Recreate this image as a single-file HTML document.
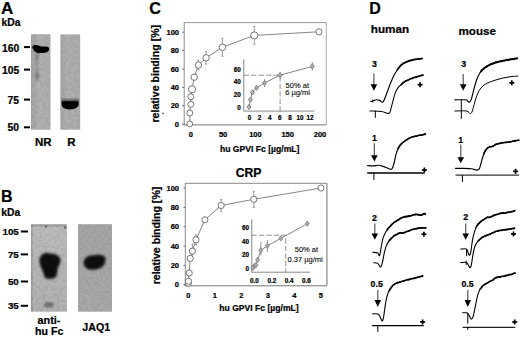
<!DOCTYPE html>
<html><head><meta charset="utf-8"><style>
html,body{margin:0;padding:0;background:#fff;}
svg{display:block;}
text{font-family:"Liberation Sans",sans-serif;fill:#000;stroke:#000;stroke-width:0.22px;}
</style></head><body>
<svg width="520" height="337" viewBox="0 0 520 337">
<defs>
<filter id="blur1" x="-50%" y="-50%" width="200%" height="200%"><feGaussianBlur stdDeviation="0.8"/></filter>
<filter id="blur05" x="-50%" y="-50%" width="200%" height="200%"><feGaussianBlur stdDeviation="0.5"/></filter>
<linearGradient id="gRh" x1="0" y1="0" x2="0" y2="1"><stop offset="0" stop-color="#000" stop-opacity="0"/><stop offset="1" stop-color="#000" stop-opacity="0.75"/></linearGradient>
<filter id="blur2" x="-50%" y="-50%" width="200%" height="200%"><feGaussianBlur stdDeviation="1.5"/></filter>
<filter id="noise" x="0" y="0" width="100%" height="100%"><feTurbulence type="fractalNoise" baseFrequency="0.35" numOctaves="2" seed="3"/><feColorMatrix type="matrix" values="0 0 0 0 0  0 0 0 0 0  0 0 0 0 0  0 0 0 1.6 -0.55"/><feComposite in2="SourceGraphic" operator="in"/></filter>
<linearGradient id="gA1" x1="0" y1="0" x2="1" y2="0"><stop offset="0" stop-color="#a4a4a4"/><stop offset="0.4" stop-color="#b2b2b2"/><stop offset="1" stop-color="#aeaeae"/></linearGradient>
<linearGradient id="gA2" x1="0" y1="0" x2="1" y2="0"><stop offset="0" stop-color="#a4a4a4"/><stop offset="0.3" stop-color="#b0b0b0"/><stop offset="1" stop-color="#adadad"/></linearGradient>
<linearGradient id="gB1" x1="0" y1="0" x2="0" y2="1"><stop offset="0" stop-color="#bebebe"/><stop offset="0.5" stop-color="#b8b8b8"/><stop offset="1" stop-color="#b3b3b3"/></linearGradient>
<linearGradient id="gB2" x1="0" y1="0" x2="0" y2="1"><stop offset="0" stop-color="#a6a6a6"/><stop offset="1" stop-color="#aaaaaa"/></linearGradient>
</defs>
<rect width="520" height="337" fill="#fff"/>
<text x="1.0" y="14.1" font-size="17" font-weight="bold" text-anchor="start" >A</text>
<text x="1.6" y="25.8" font-size="10.3" font-weight="bold" text-anchor="start" >kDa</text>
<text x="19.2" y="51.5" font-size="10.3" font-weight="bold" text-anchor="end" >160</text>
<text x="19.2" y="73.8" font-size="10.3" font-weight="bold" text-anchor="end" >105</text>
<text x="19.0" y="104.0" font-size="10.3" font-weight="bold" text-anchor="end" >75</text>
<text x="19.0" y="131.0" font-size="10.3" font-weight="bold" text-anchor="end" >50</text>
<line x1="24" y1="47.1" x2="30" y2="47.1" stroke="#000" stroke-width="2" />
<line x1="24" y1="69.6" x2="30" y2="69.6" stroke="#000" stroke-width="2" />
<line x1="24" y1="99.6" x2="30" y2="99.6" stroke="#000" stroke-width="2" />
<line x1="24" y1="127.3" x2="30" y2="127.3" stroke="#000" stroke-width="2" />
<rect x="31.0" y="34.2" width="19.5" height="95.5" fill="url(#gA1)"/>
<rect x="60.4" y="34.4" width="19.8" height="95.3" fill="url(#gA2)"/>
<rect x="31.0" y="34.2" width="19.5" height="95.5" fill="#000" filter="url(#noise)" opacity="0.10"/>
<rect x="60.4" y="34.4" width="19.8" height="95.3" fill="#000" filter="url(#noise)" opacity="0.10"/>
<path d="M32.3,47.6 C32.4,45.6 33.8,44.7 35.5,44.7 C37.2,44.8 38.6,45.5 40.2,46.3 C42.2,46.8 45.2,46.5 47.6,46.7 C49.2,47.1 49.4,48.9 48.9,50.3 C48.1,51.8 46.6,52.6 44.6,52.8 C42.2,53.1 39.6,53.4 37.6,53.3 C35.4,52.9 33.4,50.6 32.3,47.6 Z" fill="#050505" filter="url(#blur05)"/>
<path d="M35.6,52.5 L38.6,52.5 L38.4,60 L36,60 Z" fill="#777" filter="url(#blur1)" opacity="0.6"/>
<rect x="35.4" y="55" width="3" height="26" fill="#000" filter="url(#blur1)" opacity="0.12"/>
<rect x="61.5" y="97.5" width="17.2" height="5" fill="url(#gRh)"/>
<path d="M61.6,102.2 C62.5,101.2 66,101.3 70,101.4 C74,101.3 77.5,101.2 78.6,102.2 C79.2,104.5 78.5,106.5 76.5,107.8 C74.5,109 72,109.5 69.5,109.5 C66.5,109.4 64.5,108.8 63,107.6 C61.8,106.3 61.2,104.2 61.6,102.2 Z" fill="#050505" filter="url(#blur05)"/>
<ellipse cx="37.2" cy="75.5" rx="1.6" ry="3.6" fill="#555" filter="url(#blur1)" opacity="0.55"/>
<text x="43.3" y="145.8" font-size="11.5" font-weight="bold" text-anchor="middle" >NR</text>
<text x="71.3" y="145.8" font-size="11.5" font-weight="bold" text-anchor="middle" >R</text>
<text x="1.0" y="201.7" font-size="16" font-weight="bold" text-anchor="start" >B</text>
<text x="1.3" y="216" font-size="10.3" font-weight="bold" text-anchor="start" >kDa</text>
<text x="18.8" y="234.7" font-size="9.8" font-weight="bold" text-anchor="end" >105</text>
<text x="18.8" y="257.5" font-size="9.8" font-weight="bold" text-anchor="end" >75</text>
<text x="18.8" y="285.0" font-size="9.8" font-weight="bold" text-anchor="end" >50</text>
<text x="18.8" y="309.4" font-size="9.8" font-weight="bold" text-anchor="end" >35</text>
<line x1="20.8" y1="231.5" x2="28" y2="231.5" stroke="#000" stroke-width="2" />
<line x1="20.8" y1="254.4" x2="28" y2="254.4" stroke="#000" stroke-width="2" />
<line x1="20.8" y1="281.5" x2="28" y2="281.5" stroke="#000" stroke-width="2" />
<line x1="20.8" y1="305.8" x2="28" y2="305.8" stroke="#000" stroke-width="2" />
<rect x="30.9" y="224.2" width="36.0" height="87.5" fill="url(#gB1)"/>
<rect x="78.0" y="224.2" width="34.0" height="87.5" fill="url(#gB2)"/>
<rect x="30.9" y="224.2" width="36.0" height="87.5" fill="#000" filter="url(#noise)" opacity="0.12"/>
<rect x="30.9" y="224.2" width="1.8" height="87.5" fill="#000" opacity="0.12"/>
<rect x="31.5" y="224.4" width="35" height="2.2" fill="#000" opacity="0.15" filter="url(#blur05)"/>
<circle cx="65.2" cy="227.6" r="1.3" fill="#555" filter="url(#blur05)" opacity="0.8"/>
<circle cx="46" cy="226.5" r="1.2" fill="#555" filter="url(#blur05)" opacity="0.7"/>
<rect x="78.0" y="224.2" width="34.0" height="87.5" fill="#000" filter="url(#noise)" opacity="0.10"/>
<path d="M39.2,260.5 C39.27,258.63 39.98,256.58 41.0,255.3 C42.02,254.02 43.72,253.13 45.3,252.8 C46.88,252.47 48.67,253.00 50.5,253.3 C52.33,253.60 54.68,253.82 56.3,254.6 C57.92,255.38 59.52,256.68 60.2,258.0 C60.88,259.32 60.73,260.92 60.4,262.5 C60.07,264.08 58.72,265.75 58.2,267.5 C57.68,269.25 57.75,271.28 57.3,273.0 C56.85,274.72 56.72,276.80 55.5,277.8 C54.28,278.80 51.75,278.97 50.0,279.0 C48.25,279.03 46.13,279.08 45.0,278.0 C43.87,276.92 43.93,274.42 43.2,272.5 C42.47,270.58 41.27,268.50 40.6,266.5 C39.93,264.50 39.13,262.37 39.2,260.5 Z" fill="#333" filter="url(#blur2)" opacity="0.6"/>
<path d="M40.0,260.5 C40.08,258.75 40.88,257.15 41.8,256.0 C42.72,254.85 44.05,253.93 45.5,253.6 C46.95,253.27 48.78,253.73 50.5,254.0 C52.22,254.27 54.32,254.48 55.8,255.2 C57.28,255.92 58.77,257.08 59.4,258.3 C60.03,259.52 59.92,261.00 59.6,262.5 C59.28,264.00 58.00,265.58 57.5,267.3 C57.00,269.02 57.05,271.18 56.6,272.8 C56.15,274.42 55.90,276.10 54.8,277.0 C53.70,277.90 51.55,278.17 50.0,278.2 C48.45,278.23 46.53,278.20 45.5,277.2 C44.47,276.20 44.50,273.98 43.8,272.2 C43.10,270.42 41.93,268.45 41.3,266.5 C40.67,264.55 39.92,262.25 40.0,260.5 Z" fill="#080808" filter="url(#blur1)"/>
<path d="M83.5,263.5 C83,259 86,256 91,255.4 C96,254.6 101,254.3 104,255.6 C106.2,257 106,261 104.5,264.5 C102.5,268 98,269.6 93,270 C88,270.3 84,268 83.5,263.5 Z" fill="#333" filter="url(#blur2)" opacity="0.5"/>
<path d="M84.2,263.5 C83.8,259.3 86.5,256.6 91,256 C96,255.3 100.5,254.9 103.5,256.2 C105.4,257.6 105.2,261 103.8,264.2 C101.9,267.4 97.8,268.9 93,269.3 C88.3,269.6 84.7,267.5 84.2,263.5 Z" fill="#080808" filter="url(#blur1)"/>
<ellipse cx="48.9" cy="304.7" rx="5" ry="2.8" fill="#5a5a5a" filter="url(#blur1)" opacity="0.75"/>
<text x="49.0" y="324.2" font-size="10.8" font-weight="bold" text-anchor="middle" >anti-</text>
<text x="49.2" y="335.0" font-size="10.6" font-weight="bold" text-anchor="middle" >hu Fc</text>
<text x="96.2" y="331.3" font-size="10.6" font-weight="bold" text-anchor="middle" >JAQ1</text>
<text x="149.2" y="14.4" font-size="16.2" font-weight="bold" text-anchor="start" >C</text>
<line x1="184.2" y1="22.6" x2="326.3" y2="22.6" stroke="#999" stroke-width="1" />
<line x1="326.3" y1="22.6" x2="326.3" y2="124.9" stroke="#aaa" stroke-width="1" />
<line x1="184.2" y1="22.2" x2="184.2" y2="125.3" stroke="#8c8c8c" stroke-width="1" />
<line x1="183.7" y1="124.9" x2="326.3" y2="124.9" stroke="#777" stroke-width="1" />
<line x1="182.2" y1="124.1" x2="184.2" y2="124.1" stroke="#666" stroke-width="1" />
<text x="179.0" y="126.69999999999999" font-size="7.5" font-weight="bold" text-anchor="end" >0</text>
<line x1="182.2" y1="105.72" x2="184.2" y2="105.72" stroke="#666" stroke-width="1" />
<text x="179.0" y="108.32" font-size="7.5" font-weight="bold" text-anchor="end" >20</text>
<line x1="182.2" y1="87.33999999999999" x2="184.2" y2="87.33999999999999" stroke="#666" stroke-width="1" />
<text x="179.0" y="89.93999999999998" font-size="7.5" font-weight="bold" text-anchor="end" >40</text>
<line x1="182.2" y1="68.96" x2="184.2" y2="68.96" stroke="#666" stroke-width="1" />
<text x="179.0" y="71.55999999999999" font-size="7.5" font-weight="bold" text-anchor="end" >60</text>
<line x1="182.2" y1="50.579999999999984" x2="184.2" y2="50.579999999999984" stroke="#666" stroke-width="1" />
<text x="179.0" y="53.179999999999986" font-size="7.5" font-weight="bold" text-anchor="end" >80</text>
<line x1="182.2" y1="32.19999999999999" x2="184.2" y2="32.19999999999999" stroke="#666" stroke-width="1" />
<text x="179.0" y="34.79999999999999" font-size="7.5" font-weight="bold" text-anchor="end" >100</text>
<text x="190.8" y="137.0" font-size="7.5" font-weight="bold" text-anchor="middle" >0</text>
<text x="223.10000000000002" y="137.0" font-size="7.5" font-weight="bold" text-anchor="middle" >50</text>
<text x="255.40000000000003" y="137.0" font-size="7.5" font-weight="bold" text-anchor="middle" >100</text>
<text x="287.70000000000005" y="137.0" font-size="7.5" font-weight="bold" text-anchor="middle" >150</text>
<text x="320.0" y="137.0" font-size="7.5" font-weight="bold" text-anchor="middle" >200</text>
<text x="259.7" y="151.8" font-size="8.6" font-weight="bold" text-anchor="middle" >hu GPVI Fc [µg/mL]</text>
<text x="0" y="0" font-size="10.6" font-weight="bold" text-anchor="middle" transform="translate(158.8,73.7) rotate(-90)">relative binding [%]</text>
<line x1="243.8" y1="59.2" x2="243.8" y2="111.3" stroke="#888" stroke-width="1" />
<line x1="243.8" y1="111.1" x2="314.4" y2="111.1" stroke="#888" stroke-width="1" />
<text x="240.8" y="110.2" font-size="6.3" font-weight="bold" text-anchor="end" >0</text>
<text x="240.8" y="97.34" font-size="6.3" font-weight="bold" text-anchor="end" >20</text>
<text x="240.8" y="84.48" font-size="6.3" font-weight="bold" text-anchor="end" >40</text>
<text x="240.8" y="71.62" font-size="6.3" font-weight="bold" text-anchor="end" >60</text>
<text x="249.5" y="120.2" font-size="6.3" font-weight="bold" text-anchor="middle" >0</text>
<text x="259.6" y="120.2" font-size="6.3" font-weight="bold" text-anchor="middle" >2</text>
<text x="269.7" y="120.2" font-size="6.3" font-weight="bold" text-anchor="middle" >4</text>
<text x="279.8" y="120.2" font-size="6.3" font-weight="bold" text-anchor="middle" >6</text>
<text x="289.9" y="120.2" font-size="6.3" font-weight="bold" text-anchor="middle" >8</text>
<text x="300.0" y="120.2" font-size="6.3" font-weight="bold" text-anchor="middle" >10</text>
<text x="310.1" y="120.2" font-size="6.3" font-weight="bold" text-anchor="middle" >12</text>
<path d="M244.1,75.2 H280.1 V111" fill="none" stroke="#777" stroke-width="0.8" stroke-linejoin="round" stroke-linecap="round" stroke-dasharray="4.5,3"/>
<text x="297.3" y="87.6" font-size="7.5" font-weight="normal" text-anchor="middle"  style="stroke-width:0.12px;fill:#111">50% at</text>
<text x="297.5" y="95.2" font-size="7.5" font-weight="normal" text-anchor="middle"  style="stroke-width:0.12px;fill:#111">6 µg/ml</text>
<polyline points="248.9,107.0 250.4,99.7 252.4,92.4 256.6,87.8 264.5,83.0 280.1,75.2 312.3,66.4" fill="none" stroke="#666" stroke-width="0.8" stroke-linejoin="round" stroke-linecap="round" />
<line x1="264.5" y1="79.2" x2="264.5" y2="87" stroke="#666" stroke-width="0.7" />
<line x1="312.3" y1="62.3" x2="312.3" y2="70.5" stroke="#666" stroke-width="0.7" />
<line x1="280.1" y1="71.8" x2="280.1" y2="78.8" stroke="#666" stroke-width="0.7" />
<path d="M248.9,104.4 L250.9,107 L248.9,109.6 L246.9,107 Z" fill="#b0b0b0" stroke="#707070" stroke-width="0.75"/>
<path d="M250.4,97.10000000000001 L252.4,99.7 L250.4,102.3 L248.4,99.7 Z" fill="#b0b0b0" stroke="#707070" stroke-width="0.75"/>
<path d="M252.4,89.80000000000001 L254.4,92.4 L252.4,95.0 L250.4,92.4 Z" fill="#b0b0b0" stroke="#707070" stroke-width="0.75"/>
<path d="M256.6,85.2 L258.6,87.8 L256.6,90.39999999999999 L254.60000000000002,87.8 Z" fill="#b0b0b0" stroke="#707070" stroke-width="0.75"/>
<path d="M264.5,80.4 L266.5,83 L264.5,85.6 L262.5,83 Z" fill="#b0b0b0" stroke="#707070" stroke-width="0.75"/>
<path d="M280.1,72.60000000000001 L282.1,75.2 L280.1,77.8 L278.1,75.2 Z" fill="#b0b0b0" stroke="#707070" stroke-width="0.75"/>
<path d="M312.3,63.800000000000004 L314.3,66.4 L312.3,69.0 L310.3,66.4 Z" fill="#b0b0b0" stroke="#707070" stroke-width="0.75"/>
<polyline points="189.8,123.9 189.8,113.0 190.8,104.3 190.8,96.8 192.0,89.2 194.2,77.2 198.4,65.0 206.1,57.8 222.4,47.3 254.3,35.4 319.0,31.8" fill="none" stroke="#666" stroke-width="0.8" stroke-linejoin="round" stroke-linecap="round" />
<line x1="254.3" y1="26.4" x2="254.3" y2="44.4" stroke="#777" stroke-width="0.7" />
<line x1="253.3" y1="26.4" x2="255.3" y2="26.4" stroke="#777" stroke-width="0.7" />
<line x1="253.3" y1="44.4" x2="255.3" y2="44.4" stroke="#777" stroke-width="0.7" />
<line x1="222.4" y1="38.3" x2="222.4" y2="56.3" stroke="#777" stroke-width="0.7" />
<line x1="221.4" y1="38.3" x2="223.4" y2="38.3" stroke="#777" stroke-width="0.7" />
<line x1="221.4" y1="56.3" x2="223.4" y2="56.3" stroke="#777" stroke-width="0.7" />
<line x1="206.1" y1="51.5" x2="206.1" y2="64.1" stroke="#777" stroke-width="0.7" />
<line x1="205.1" y1="51.5" x2="207.1" y2="51.5" stroke="#777" stroke-width="0.7" />
<line x1="205.1" y1="64.1" x2="207.1" y2="64.1" stroke="#777" stroke-width="0.7" />
<line x1="198.4" y1="60" x2="198.4" y2="70" stroke="#777" stroke-width="0.7" />
<line x1="197.4" y1="60" x2="199.4" y2="60" stroke="#777" stroke-width="0.7" />
<line x1="197.4" y1="70" x2="199.4" y2="70" stroke="#777" stroke-width="0.7" />
<circle cx="189.8" cy="123.9" r="2.9" fill="#fff" stroke="#555" stroke-width="0.8"/>
<circle cx="189.8" cy="113" r="3" fill="#fff" stroke="#555" stroke-width="0.8"/>
<circle cx="190.8" cy="104.3" r="3" fill="#fff" stroke="#555" stroke-width="0.8"/>
<circle cx="190.8" cy="96.8" r="3" fill="#fff" stroke="#555" stroke-width="0.8"/>
<circle cx="192" cy="89.2" r="3.6" fill="#fff" stroke="#555" stroke-width="0.8"/>
<circle cx="194.2" cy="77.2" r="3.2" fill="#fff" stroke="#555" stroke-width="0.8"/>
<circle cx="198.4" cy="65" r="3.2" fill="#fff" stroke="#555" stroke-width="0.8"/>
<circle cx="206.1" cy="57.8" r="3.2" fill="#fff" stroke="#555" stroke-width="0.8"/>
<circle cx="222.4" cy="47.3" r="3.3" fill="#fff" stroke="#555" stroke-width="0.8"/>
<circle cx="254.3" cy="35.4" r="3.6" fill="#fff" stroke="#555" stroke-width="0.8"/>
<circle cx="319" cy="31.8" r="3.1" fill="#fff" stroke="#555" stroke-width="0.8"/>
<circle cx="163" cy="113.4" r="0.8" fill="#444"/>
<text x="248.6" y="177.0" font-size="12.2" font-weight="bold" text-anchor="middle" >CRP</text>
<line x1="185.3" y1="183.3" x2="326.9" y2="183.3" stroke="#888" stroke-width="1" />
<line x1="326.9" y1="183.3" x2="326.9" y2="285.8" stroke="#999" stroke-width="1.4" />
<line x1="185.3" y1="183" x2="185.3" y2="286" stroke="#8c8c8c" stroke-width="1" />
<line x1="184.8" y1="285.8" x2="326.9" y2="285.8" stroke="#777" stroke-width="1" />
<line x1="183.5" y1="284.8" x2="185.3" y2="284.8" stroke="#666" stroke-width="1" />
<text x="179.0" y="287.40000000000003" font-size="7.5" font-weight="bold" text-anchor="end" >0</text>
<line x1="183.5" y1="265.44" x2="185.3" y2="265.44" stroke="#666" stroke-width="1" />
<text x="179.0" y="268.04" font-size="7.5" font-weight="bold" text-anchor="end" >20</text>
<line x1="183.5" y1="246.08" x2="185.3" y2="246.08" stroke="#666" stroke-width="1" />
<text x="179.0" y="248.68" font-size="7.5" font-weight="bold" text-anchor="end" >40</text>
<line x1="183.5" y1="226.72000000000003" x2="185.3" y2="226.72000000000003" stroke="#666" stroke-width="1" />
<text x="179.0" y="229.32000000000002" font-size="7.5" font-weight="bold" text-anchor="end" >60</text>
<line x1="183.5" y1="207.36" x2="185.3" y2="207.36" stroke="#666" stroke-width="1" />
<text x="179.0" y="209.96" font-size="7.5" font-weight="bold" text-anchor="end" >80</text>
<line x1="183.5" y1="188.0" x2="185.3" y2="188.0" stroke="#666" stroke-width="1" />
<text x="179.0" y="190.6" font-size="7.5" font-weight="bold" text-anchor="end" >100</text>
<text x="188.3" y="297.8" font-size="7.5" font-weight="bold" text-anchor="middle" >0</text>
<text x="214.8" y="297.8" font-size="7.5" font-weight="bold" text-anchor="middle" >1</text>
<text x="241.3" y="297.8" font-size="7.5" font-weight="bold" text-anchor="middle" >2</text>
<text x="267.8" y="297.8" font-size="7.5" font-weight="bold" text-anchor="middle" >3</text>
<text x="294.3" y="297.8" font-size="7.5" font-weight="bold" text-anchor="middle" >4</text>
<text x="320.8" y="297.8" font-size="7.5" font-weight="bold" text-anchor="middle" >5</text>
<text x="259" y="310.8" font-size="8.6" font-weight="bold" text-anchor="middle" >hu GPVI Fc [µg/mL]</text>
<text x="0" y="0" font-size="10.6" font-weight="bold" text-anchor="middle" transform="translate(159.6,235.5) rotate(-90)">relative binding [%]</text>
<line x1="251.8" y1="219.2" x2="251.8" y2="272.4" stroke="#888" stroke-width="1" />
<line x1="251.8" y1="272.2" x2="310" y2="272.2" stroke="#888" stroke-width="1" />
<text x="248.9" y="270.8" font-size="6.3" font-weight="bold" text-anchor="end" >0</text>
<text x="248.9" y="257.24" font-size="6.3" font-weight="bold" text-anchor="end" >20</text>
<text x="248.9" y="243.68" font-size="6.3" font-weight="bold" text-anchor="end" >40</text>
<text x="248.9" y="230.12" font-size="6.3" font-weight="bold" text-anchor="end" >60</text>
<text x="254.5" y="282.6" font-size="6.3" font-weight="bold" text-anchor="middle" >0.0</text>
<text x="271.8" y="282.6" font-size="6.3" font-weight="bold" text-anchor="middle" >0.2</text>
<text x="289.1" y="282.6" font-size="6.3" font-weight="bold" text-anchor="middle" >0.4</text>
<text x="306.4" y="282.6" font-size="6.3" font-weight="bold" text-anchor="middle" >0.6</text>
<path d="M251.8,235.2 H285.7 V272" fill="none" stroke="#777" stroke-width="0.8" stroke-linejoin="round" stroke-linecap="round" stroke-dasharray="4.5,3"/>
<text x="306.4" y="252.4" font-size="7.5" font-weight="normal" text-anchor="middle"  style="stroke-width:0.12px;fill:#111">50% at</text>
<text x="305.2" y="261.5" font-size="7.5" font-weight="normal" text-anchor="middle"  style="stroke-width:0.12px;fill:#111">0.37 µg/ml</text>
<polyline points="252.9,268.0 254.5,266.0 256.0,264.9 257.7,259.7 260.8,250.3 267.4,245.8 281.0,238.3 307.3,223.7" fill="none" stroke="#666" stroke-width="0.8" stroke-linejoin="round" stroke-linecap="round" />
<line x1="260.8" y1="242" x2="260.8" y2="255.5" stroke="#666" stroke-width="0.7" />
<line x1="267.4" y1="240" x2="267.4" y2="252" stroke="#666" stroke-width="0.7" />
<path d="M252.9,265.4 L254.9,268 L252.9,270.6 L250.9,268 Z" fill="#b0b0b0" stroke="#707070" stroke-width="0.75"/>
<path d="M254.5,263.4 L256.5,266 L254.5,268.6 L252.5,266 Z" fill="#b0b0b0" stroke="#707070" stroke-width="0.75"/>
<path d="M256,262.29999999999995 L258.0,264.9 L256,267.5 L254.0,264.9 Z" fill="#b0b0b0" stroke="#707070" stroke-width="0.75"/>
<path d="M257.7,257.09999999999997 L259.7,259.7 L257.7,262.3 L255.7,259.7 Z" fill="#b0b0b0" stroke="#707070" stroke-width="0.75"/>
<path d="M260.8,247.70000000000002 L262.8,250.3 L260.8,252.9 L258.8,250.3 Z" fill="#b0b0b0" stroke="#707070" stroke-width="0.75"/>
<path d="M267.4,243.20000000000002 L269.4,245.8 L267.4,248.4 L265.4,245.8 Z" fill="#b0b0b0" stroke="#707070" stroke-width="0.75"/>
<path d="M281,235.70000000000002 L283.0,238.3 L281,240.9 L279.0,238.3 Z" fill="#b0b0b0" stroke="#707070" stroke-width="0.75"/>
<path d="M307.3,221.1 L309.3,223.7 L307.3,226.29999999999998 L305.3,223.7 Z" fill="#b0b0b0" stroke="#707070" stroke-width="0.75"/>
<polyline points="188.3,283.3 188.5,281.3 189.2,273.0 190.2,258.4 192.4,251.2 196.0,239.8 204.9,219.8 221.2,205.5 253.8,199.3 321.0,188.0" fill="none" stroke="#666" stroke-width="0.8" stroke-linejoin="round" stroke-linecap="round" />
<line x1="253.8" y1="191.3" x2="253.8" y2="207.3" stroke="#777" stroke-width="0.7" />
<line x1="252.8" y1="191.3" x2="254.8" y2="191.3" stroke="#777" stroke-width="0.7" />
<line x1="252.8" y1="207.3" x2="254.8" y2="207.3" stroke="#777" stroke-width="0.7" />
<line x1="221.2" y1="199.5" x2="221.2" y2="211.5" stroke="#777" stroke-width="0.7" />
<line x1="220.2" y1="199.5" x2="222.2" y2="199.5" stroke="#777" stroke-width="0.7" />
<line x1="220.2" y1="211.5" x2="222.2" y2="211.5" stroke="#777" stroke-width="0.7" />
<line x1="192.4" y1="244.2" x2="192.4" y2="258.2" stroke="#777" stroke-width="0.7" />
<line x1="191.4" y1="244.2" x2="193.4" y2="244.2" stroke="#777" stroke-width="0.7" />
<line x1="191.4" y1="258.2" x2="193.4" y2="258.2" stroke="#777" stroke-width="0.7" />
<line x1="196" y1="234.8" x2="196" y2="244.8" stroke="#777" stroke-width="0.7" />
<line x1="195" y1="234.8" x2="197" y2="234.8" stroke="#777" stroke-width="0.7" />
<line x1="195" y1="244.8" x2="197" y2="244.8" stroke="#777" stroke-width="0.7" />
<circle cx="188.3" cy="283.3" r="3.1" fill="#fff" stroke="#555" stroke-width="0.8"/>
<circle cx="188.5" cy="281.3" r="3.1" fill="#fff" stroke="#555" stroke-width="0.8"/>
<circle cx="189.2" cy="273" r="3.1" fill="#fff" stroke="#555" stroke-width="0.8"/>
<circle cx="190.2" cy="258.4" r="3.1" fill="#fff" stroke="#555" stroke-width="0.8"/>
<circle cx="192.4" cy="251.2" r="3.1" fill="#fff" stroke="#555" stroke-width="0.8"/>
<circle cx="196" cy="239.8" r="3.1" fill="#fff" stroke="#555" stroke-width="0.8"/>
<circle cx="204.9" cy="219.8" r="3.1" fill="#fff" stroke="#555" stroke-width="0.8"/>
<circle cx="221.2" cy="205.5" r="3.1" fill="#fff" stroke="#555" stroke-width="0.8"/>
<circle cx="253.8" cy="199.3" r="3.1" fill="#fff" stroke="#555" stroke-width="0.8"/>
<circle cx="321" cy="188" r="3.1" fill="#fff" stroke="#555" stroke-width="0.8"/>
<text x="369.2" y="14.4" font-size="16" font-weight="bold" text-anchor="start" >D</text>
<text x="370.8" y="33.2" font-size="11.7" font-weight="bold" text-anchor="start" >human</text>
<text x="458.5" y="34.7" font-size="11.6" font-weight="bold" text-anchor="start" >mouse</text>
<text x="374.4" y="66.7" font-size="8.8" font-weight="bold" text-anchor="middle" >3</text>
<line x1="373.9" y1="73.4" x2="373.9" y2="84.7" stroke="#555" stroke-width="1.2" />
<path d="M370.59999999999997,84.2 L377.2,84.2 L373.9,90.7 Z" fill="#000"/>
<path d="M370.8,101.4 C371.13,101.33 371.83,101.27 372.8,101.0 C373.77,100.73 375.48,99.90 376.6,99.8 C377.72,99.70 378.53,99.98 379.5,100.4 C380.47,100.82 381.58,102.47 382.4,102.3 C383.22,102.13 383.58,101.17 384.4,99.4 C385.22,97.63 386.33,94.27 387.3,91.7 C388.27,89.13 389.23,86.42 390.2,84.0 C391.17,81.58 391.98,79.45 393.1,77.2 C394.22,74.95 395.62,72.43 396.9,70.5 C398.18,68.57 399.50,66.90 400.8,65.6 C402.10,64.30 403.25,63.48 404.7,62.7 C406.15,61.92 407.92,61.40 409.5,60.9 C411.08,60.40 412.62,60.03 414.2,59.7 C415.78,59.37 417.65,59.10 419.0,58.9 C420.35,58.70 421.75,58.57 422.3,58.5" fill="none" stroke="#000" stroke-width="1.15" stroke-linejoin="round" stroke-linecap="round" />
<path d="M397.29,69.80 L397.67,69.13 L398.06,68.94 L398.45,68.02 L398.84,67.84 L399.24,67.24 L399.63,66.56 L400.02,66.43 L400.41,65.68 L400.80,65.55 L401.28,64.83 L401.75,64.42 L402.22,64.26 L402.69,64.19 L403.17,63.36 L403.66,63.11 L404.17,63.09 L404.70,63.01 L405.26,62.47 L405.84,62.09 L406.44,62.25 L407.05,61.38 L407.67,61.73 L408.29,61.13 L408.90,60.84 L409.50,60.63 L410.09,60.58 L410.68,60.77 L411.27,60.16 L411.85,60.29 L412.43,60.19 L413.02,59.87 L413.61,59.86 L414.20,59.39 L414.81,59.27 L415.43,59.26 L416.06,59.48 L416.69,59.20 L417.31,59.02 L417.90,59.12 L418.47,58.95 L419.00,58.76 L419.81,58.99 L420.59,58.83 L421.29,58.43 L421.88,58.60 L422.30,58.52" fill="none" stroke="#000" stroke-width="1.7" stroke-linejoin="round" stroke-linecap="round" />
<path d="M369.9,111.0 C371.83,111.07 378.77,111.07 381.5,111.4 C384.23,111.73 384.95,112.73 386.3,113.0 C387.65,113.27 388.80,113.82 389.6,113.0 C390.40,112.18 390.52,110.20 391.1,108.1 C391.68,106.00 392.45,102.82 393.1,100.4 C393.75,97.98 394.20,95.68 395.0,93.6 C395.80,91.52 396.78,89.50 397.9,87.9 C399.02,86.30 400.57,85.03 401.7,84.0 C402.83,82.97 403.40,82.48 404.7,81.7 C406.00,80.92 407.92,80.00 409.5,79.3 C411.08,78.60 412.62,78.00 414.2,77.5 C415.78,77.00 417.52,76.70 419.0,76.3 C420.48,75.90 422.42,75.30 423.1,75.1" fill="none" stroke="#000" stroke-width="1.05" stroke-linejoin="round" stroke-linecap="round" />
<path d="M401.31,84.62 L401.70,84.16 L402.23,83.38 L402.69,83.45 L403.14,82.49 L403.60,82.36 L404.11,82.25 L404.70,81.46 L405.21,81.39 L405.78,80.77 L406.37,80.90 L406.99,80.65 L407.63,80.21 L408.26,80.12 L408.89,79.44 L409.50,79.44 L410.09,79.11 L410.68,78.85 L411.27,78.52 L411.85,78.56 L412.43,78.42 L413.02,77.88 L413.61,77.81 L414.20,77.19 L414.80,77.46 L415.41,77.26 L416.02,77.35 L416.64,77.09 L417.25,76.57 L417.85,76.51 L418.43,76.56 L419.00,75.97 L419.66,76.09 L420.34,75.69 L421.02,75.45 L421.67,75.22 L422.25,75.54 L422.74,74.95 L423.10,74.92" fill="none" stroke="#000" stroke-width="1.55" stroke-linejoin="round" stroke-linecap="round" />
<line x1="375.3" y1="110.7" x2="375.3" y2="117.8" stroke="#000" stroke-width="1" />
<line x1="372.8" y1="99.5" x2="372.8" y2="102.5" stroke="#000" stroke-width="0.9" />
<line x1="417.6" y1="84.7" x2="422.6" y2="84.7" stroke="#000" stroke-width="1.7" />
<line x1="420.1" y1="82.2" x2="420.1" y2="87.2" stroke="#000" stroke-width="1.7" />
<text x="463.8" y="67.0" font-size="8.8" font-weight="bold" text-anchor="middle" >3</text>
<line x1="463.2" y1="73.9" x2="463.2" y2="84.7" stroke="#555" stroke-width="1.2" />
<path d="M459.9,84.2 L466.5,84.2 L463.2,90.7 Z" fill="#000"/>
<path d="M454.9,99.8 C456.67,99.80 463.40,99.60 465.5,99.8 C467.60,100.00 466.85,100.58 467.5,101.0 C468.15,101.42 468.77,102.57 469.4,102.3 C470.03,102.03 470.65,101.17 471.3,99.4 C471.95,97.63 472.58,94.43 473.3,91.7 C474.02,88.97 474.80,85.57 475.6,83.0 C476.40,80.43 477.20,78.23 478.1,76.3 C479.00,74.37 479.87,72.85 481.0,71.4 C482.13,69.95 483.45,68.67 484.9,67.6 C486.35,66.53 488.35,65.70 489.7,65.0 C491.05,64.30 491.62,63.93 493.0,63.4 C494.38,62.87 496.33,62.20 498.0,61.8 C499.67,61.40 501.33,61.30 503.0,61.0 C504.67,60.70 506.35,60.33 508.0,60.0 C509.65,59.67 511.35,59.25 512.9,59.0 C514.45,58.75 516.57,58.58 517.3,58.5" fill="none" stroke="#000" stroke-width="1.15" stroke-linejoin="round" stroke-linecap="round" />
<path d="M481.00,71.32 L481.38,71.18 L481.78,70.16 L482.19,69.97 L482.62,69.60 L483.05,69.41 L483.50,68.96 L483.95,68.60 L484.42,67.81 L484.90,67.54 L485.40,67.15 L485.93,67.19 L486.49,66.93 L487.05,66.06 L487.62,65.79 L488.18,65.56 L488.72,65.30 L489.23,65.23 L489.70,65.06 L490.32,64.51 L490.85,64.05 L491.34,64.08 L491.83,63.80 L492.37,63.70 L493.00,63.72 L493.54,63.33 L494.13,62.99 L494.75,62.85 L495.39,62.67 L496.05,62.03 L496.71,62.42 L497.36,62.16 L498.00,62.06 L498.62,61.87 L499.25,61.47 L499.88,61.38 L500.50,61.08 L501.12,61.37 L501.75,60.89 L502.38,60.80 L503.00,60.80 L503.63,60.65 L504.25,60.65 L504.88,60.33 L505.51,60.16 L506.13,60.14 L506.76,59.98 L507.38,60.03 L508.00,59.67 L508.62,60.13 L509.24,59.82 L509.87,59.36 L510.49,59.30 L511.10,59.23 L511.71,59.12 L512.31,58.84 L512.90,59.24 L513.59,59.24 L514.32,58.78 L515.05,58.71 L515.75,58.36 L516.38,58.31 L516.91,58.43 L517.30,58.34" fill="none" stroke="#000" stroke-width="1.9" stroke-linejoin="round" stroke-linecap="round" />
<path d="M454.9,111.0 C456.83,111.00 463.92,110.57 466.5,111.0 C469.08,111.43 469.43,113.60 470.4,113.6 C471.37,113.60 471.67,112.55 472.3,111.0 C472.93,109.45 473.55,106.55 474.2,104.3 C474.85,102.05 475.38,99.77 476.2,97.5 C477.02,95.23 477.98,92.63 479.1,90.7 C480.22,88.77 481.47,87.18 482.9,85.9 C484.33,84.62 486.02,83.83 487.7,83.0 C489.38,82.17 491.28,81.52 493.0,80.9 C494.72,80.28 496.33,79.78 498.0,79.3 C499.67,78.82 501.33,78.37 503.0,78.0 C504.67,77.63 506.35,77.37 508.0,77.1 C509.65,76.83 511.25,76.57 512.9,76.4 C514.55,76.23 517.07,76.15 517.9,76.1" fill="none" stroke="#000" stroke-width="1.0" stroke-linejoin="round" stroke-linecap="round" />
<line x1="461.3" y1="99.8" x2="461.3" y2="118.8" stroke="#000" stroke-width="1" />
<line x1="509.3" y1="82.8" x2="514.3" y2="82.8" stroke="#000" stroke-width="1.7" />
<line x1="511.8" y1="80.3" x2="511.8" y2="85.3" stroke="#000" stroke-width="1.7" />
<text x="374.4" y="141.1" font-size="8.8" font-weight="bold" text-anchor="middle" >1</text>
<line x1="374.4" y1="143.2" x2="374.4" y2="155.7" stroke="#555" stroke-width="1.2" />
<path d="M371.09999999999997,155.2 L377.7,155.2 L374.4,161.6 Z" fill="#000"/>
<path d="M367.5,165.6 C368.52,165.65 371.78,165.95 373.6,165.9 C375.42,165.85 376.80,165.22 378.4,165.3 C380.00,165.38 381.60,165.90 383.2,166.4 C384.80,166.90 386.67,167.82 388.0,168.3 C389.33,168.78 390.40,169.48 391.2,169.3 C392.00,169.12 392.27,168.48 392.8,167.2 C393.33,165.92 393.87,163.73 394.4,161.6 C394.93,159.47 395.33,156.67 396.0,154.4 C396.67,152.13 397.53,149.73 398.4,148.0 C399.27,146.27 400.17,145.13 401.2,144.0 C402.23,142.87 403.25,142.18 404.6,141.2 C405.95,140.22 407.48,138.95 409.3,138.1 C411.12,137.25 413.45,136.62 415.5,136.1 C417.55,135.58 419.93,135.35 421.6,135.0 C423.27,134.65 424.85,134.17 425.5,134.0" fill="none" stroke="#000" stroke-width="1.15" stroke-linejoin="round" stroke-linecap="round" />
<path d="M398.16,148.72 L398.40,147.76 L398.73,147.04 L399.06,147.12 L399.39,146.29 L399.74,145.53 L400.09,145.34 L400.45,144.53 L400.82,144.45 L401.20,144.33 L401.64,143.79 L402.09,143.26 L402.55,142.56 L403.02,142.26 L403.52,141.75 L404.04,141.80 L404.60,141.22 L405.06,141.06 L405.53,140.39 L406.01,139.95 L406.52,140.00 L407.04,139.76 L407.57,139.31 L408.13,138.93 L408.70,138.62 L409.30,138.27 L409.86,137.66 L410.45,137.63 L411.05,137.29 L411.68,136.85 L412.31,136.64 L412.96,136.63 L413.60,136.43 L414.24,136.56 L414.88,136.58 L415.50,136.06 L416.12,136.26 L416.76,136.16 L417.41,136.02 L418.05,135.50 L418.69,135.29 L419.32,135.20 L419.93,135.08 L420.52,134.99 L421.08,135.19 L421.60,135.28 L422.42,135.05 L423.21,134.61 L423.93,134.54 L424.57,134.47 L425.10,133.82 L425.50,134.11" fill="none" stroke="#000" stroke-width="1.5" stroke-linejoin="round" stroke-linecap="round" />
<line x1="367.2" y1="173" x2="424.7" y2="173" stroke="#000" stroke-width="1.3" />
<line x1="373.9" y1="172.5" x2="373.9" y2="180" stroke="#000" stroke-width="1" />
<line x1="421.9" y1="170" x2="426.9" y2="170" stroke="#000" stroke-width="1.7" />
<line x1="424.4" y1="167.5" x2="424.4" y2="172.5" stroke="#000" stroke-width="1.7" />
<text x="460.8" y="142.5" font-size="8.8" font-weight="bold" text-anchor="middle" >1</text>
<line x1="460.8" y1="144.4" x2="460.8" y2="157.7" stroke="#555" stroke-width="1.2" />
<path d="M457.5,157.2 L464.1,157.2 L460.8,163.3 Z" fill="#000"/>
<path d="M455.5,168.4 C456.52,168.40 458.98,168.35 461.6,168.4 C464.22,168.45 468.93,168.48 471.2,168.7 C473.47,168.92 474.13,169.48 475.2,169.7 C476.27,169.92 476.88,170.22 477.6,170.0 C478.32,169.78 478.92,169.60 479.5,168.4 C480.08,167.20 480.57,164.67 481.1,162.8 C481.63,160.93 482.08,159.07 482.7,157.2 C483.32,155.33 483.92,153.20 484.8,151.6 C485.68,150.00 486.70,148.50 488.0,147.6 C489.30,146.70 491.05,146.82 492.6,146.2 C494.15,145.58 495.48,144.48 497.3,143.9 C499.12,143.32 501.18,143.08 503.5,142.7 C505.82,142.32 508.63,142.03 511.2,141.6 C513.77,141.17 517.62,140.35 518.9,140.1" fill="none" stroke="#000" stroke-width="1.15" stroke-linejoin="round" stroke-linecap="round" />
<path d="M484.00,153.63 L484.25,152.93 L484.52,152.33 L484.80,151.58 L485.14,150.78 L485.49,150.63 L485.86,149.75 L486.24,149.55 L486.65,149.17 L487.08,148.31 L487.53,147.90 L488.00,147.91 L488.51,147.46 L489.05,146.86 L489.62,146.66 L490.21,146.55 L490.81,146.96 L491.41,146.77 L492.01,146.15 L492.60,146.43 L493.17,146.28 L493.73,145.77 L494.29,145.25 L494.85,145.07 L495.42,144.46 L496.02,144.08 L496.64,144.47 L497.30,144.00 L497.85,143.75 L498.42,143.89 L499.00,143.41 L499.60,143.60 L500.21,143.45 L500.84,142.92 L501.48,142.84 L502.14,142.77 L502.81,142.63 L503.50,142.76 L504.09,142.44 L504.70,142.46 L505.32,142.17 L505.96,142.63 L506.60,142.15 L507.26,142.14 L507.92,142.14 L508.58,142.28 L509.24,141.85 L509.90,142.10 L510.55,141.71 L511.20,141.62 L511.81,141.51 L512.46,141.04 L513.13,141.21 L513.82,140.90 L514.51,140.64 L515.20,141.06 L515.86,140.49 L516.50,140.57 L517.10,140.62 L517.65,140.39 L518.14,140.13 L518.56,140.18 L518.90,140.14" fill="none" stroke="#000" stroke-width="1.5" stroke-linejoin="round" stroke-linecap="round" />
<line x1="455.5" y1="175.2" x2="518.9" y2="175.2" stroke="#333" stroke-width="1.2" />
<line x1="462.4" y1="175.2" x2="462.4" y2="182" stroke="#000" stroke-width="1" />
<line x1="513.1" y1="171.3" x2="518.1" y2="171.3" stroke="#000" stroke-width="1.7" />
<line x1="515.6" y1="168.8" x2="515.6" y2="173.8" stroke="#000" stroke-width="1.7" />
<text x="374.5" y="220.5" font-size="8.8" font-weight="bold" text-anchor="middle" >2</text>
<line x1="374.8" y1="223.4" x2="374.8" y2="234.1" stroke="#555" stroke-width="1.2" />
<path d="M371.5,233.6 L378.1,233.6 L374.8,239.8 Z" fill="#000"/>
<path d="M372.8,252.3 C373.62,252.40 376.57,252.35 377.7,252.9 C378.83,253.45 379.03,256.50 379.6,255.6 C380.17,254.70 380.52,250.45 381.1,247.5 C381.68,244.55 382.32,240.48 383.1,237.9 C383.88,235.32 384.77,233.78 385.8,232.0 C386.83,230.22 387.92,228.80 389.3,227.2 C390.68,225.60 392.33,223.78 394.1,222.4 C395.87,221.02 398.25,219.80 399.9,218.9 C401.55,218.00 402.33,217.50 404.0,217.0 C405.67,216.50 407.92,216.32 409.9,215.9 C411.88,215.48 414.12,214.62 415.9,214.5 C417.68,214.38 419.32,215.30 420.6,215.2 C421.88,215.10 422.80,214.12 423.6,213.9 C424.40,213.68 425.10,213.90 425.4,213.9" fill="none" stroke="#000" stroke-width="1.1" stroke-linejoin="round" stroke-linecap="round" />
<path d="M387.23,229.99 L387.61,229.00 L388.01,228.80 L388.42,228.07 L388.85,227.57 L389.30,227.39 L389.68,226.76 L390.08,226.35 L390.49,226.04 L390.91,225.69 L391.34,224.91 L391.78,224.57 L392.23,224.05 L392.68,223.62 L393.15,223.33 L393.62,222.75 L394.10,222.42 L394.60,222.01 L395.12,221.97 L395.66,221.45 L396.21,221.23 L396.76,220.94 L397.32,220.14 L397.87,220.04 L398.41,220.01 L398.94,219.66 L399.43,218.90 L399.90,218.64 L400.56,218.50 L401.14,217.92 L401.68,217.75 L402.21,217.38 L402.75,217.56 L403.33,217.41 L404.00,217.28 L404.52,216.62 L405.06,216.88 L405.63,216.73 L406.23,216.27 L406.83,216.69 L407.45,216.65 L408.07,216.03 L408.68,216.44 L409.30,215.95 L409.90,215.89 L410.50,216.11 L411.11,215.84 L411.73,215.20 L412.36,215.21 L412.98,215.10 L413.59,214.81 L414.19,214.56 L414.78,214.52 L415.35,214.71 L415.90,214.16 L416.65,214.55 L417.39,214.56 L418.09,214.42 L418.77,214.81 L419.42,215.17 L420.03,215.20 L420.60,214.90 L421.33,215.39 L421.98,214.96 L422.57,214.75 L423.10,213.83 L423.60,213.74 L424.69,213.50 L425.40,214.10" fill="none" stroke="#000" stroke-width="1.65" stroke-linejoin="round" stroke-linecap="round" />
<path d="M373.8,262.6 C374.45,262.73 376.57,262.63 377.7,263.4 C378.83,264.17 379.80,267.43 380.6,267.2 C381.40,266.97 381.87,264.48 382.5,262.0 C383.13,259.52 383.75,255.03 384.4,252.3 C385.05,249.57 385.58,247.53 386.4,245.6 C387.22,243.67 388.02,242.32 389.3,240.7 C390.58,239.08 392.33,237.18 394.1,235.9 C395.87,234.62 398.25,233.50 399.9,233.0 C401.55,232.50 402.33,233.32 404.0,232.9 C405.67,232.48 407.92,231.20 409.9,230.5 C411.88,229.80 413.92,229.15 415.9,228.7 C417.88,228.25 420.13,227.95 421.8,227.8 C423.47,227.65 425.22,227.80 425.9,227.8" fill="none" stroke="#000" stroke-width="1.1" stroke-linejoin="round" stroke-linecap="round" />
<path d="M389.30,240.54 L389.66,239.99 L390.04,239.74 L390.45,239.62 L390.86,239.09 L391.30,238.24 L391.74,237.70 L392.20,237.79 L392.67,237.12 L393.14,236.80 L393.62,235.98 L394.10,235.59 L394.65,235.65 L395.22,235.10 L395.82,234.50 L396.43,234.78 L397.04,234.25 L397.65,234.08 L398.25,233.31 L398.83,233.62 L399.38,232.86 L399.90,233.25 L400.66,232.82 L401.33,232.73 L401.94,232.96 L402.56,233.30 L403.23,232.85 L404.00,232.64 L404.52,232.77 L405.06,232.37 L405.63,232.06 L406.23,231.84 L406.83,231.49 L407.45,231.32 L408.07,231.12 L408.68,230.84 L409.30,230.91 L409.90,230.35 L410.50,230.29 L411.10,229.86 L411.70,229.78 L412.30,229.36 L412.90,229.33 L413.50,228.99 L414.10,229.32 L414.70,229.03 L415.30,228.62 L415.90,228.68 L416.57,228.86 L417.25,228.15 L417.94,228.52 L418.63,228.14 L419.31,228.09 L419.97,228.23 L420.61,227.85 L421.22,227.86 L421.80,227.93 L422.63,228.09 L423.45,227.62 L424.22,227.98 L424.90,227.91 L425.47,227.88 L425.90,227.73" fill="none" stroke="#000" stroke-width="1.6" stroke-linejoin="round" stroke-linecap="round" />
<line x1="421.4" y1="234.2" x2="426.4" y2="234.2" stroke="#000" stroke-width="1.7" />
<line x1="423.9" y1="231.7" x2="423.9" y2="236.7" stroke="#000" stroke-width="1.7" />
<text x="465.6" y="220.1" font-size="8.8" font-weight="bold" text-anchor="middle" >2</text>
<line x1="465.7" y1="223.4" x2="465.7" y2="234.1" stroke="#555" stroke-width="1.2" />
<path d="M462.4,233.6 L469.0,233.6 L465.7,239.8 Z" fill="#000"/>
<path d="M460.8,249.1 C461.77,249.10 465.30,248.23 466.6,249.1 C467.90,249.97 468.05,253.33 468.6,254.3 C469.15,255.27 469.48,255.55 469.9,254.9 C470.32,254.25 470.68,252.77 471.1,250.4 C471.52,248.03 471.85,243.75 472.4,240.7 C472.95,237.65 473.58,234.67 474.4,232.1 C475.22,229.53 476.18,227.08 477.3,225.3 C478.42,223.52 479.50,222.68 481.1,221.4 C482.70,220.12 485.42,218.28 486.9,217.6 C488.38,216.92 488.60,217.75 490.0,217.3 C491.40,216.85 493.52,215.57 495.3,214.9 C497.08,214.23 498.92,213.67 500.7,213.3 C502.48,212.93 503.67,213.10 506.0,212.7 C508.33,212.30 513.25,211.20 514.7,210.9" fill="none" stroke="#000" stroke-width="1.1" stroke-linejoin="round" stroke-linecap="round" />
<path d="M476.23,227.18 L476.49,226.44 L476.75,225.99 L477.02,225.46 L477.30,225.47 L477.67,224.57 L478.05,224.00 L478.43,223.49 L478.82,223.60 L479.22,223.23 L479.65,222.70 L480.10,222.05 L480.59,221.63 L481.10,221.26 L481.56,221.01 L482.07,220.42 L482.61,220.22 L483.18,219.70 L483.75,219.79 L484.33,219.42 L484.91,218.75 L485.46,218.20 L485.98,218.40 L486.47,217.68 L486.90,217.50 L487.66,217.00 L488.23,217.25 L488.73,217.39 L489.28,217.44 L490.00,217.09 L490.49,217.12 L491.03,216.55 L491.60,216.46 L492.20,216.05 L492.82,215.96 L493.44,215.40 L494.07,215.09 L494.69,215.01 L495.30,214.71 L495.90,214.74 L496.50,214.49 L497.10,214.45 L497.70,214.19 L498.30,214.05 L498.90,213.99 L499.50,213.50 L500.10,213.31 L500.70,213.64 L501.34,212.94 L501.95,213.26 L502.55,213.15 L503.14,212.69 L503.77,213.20 L504.44,213.19 L505.18,212.91 L506.00,212.86 L506.54,212.82 L507.14,212.24 L507.80,212.38 L508.49,212.22 L509.21,212.31 L509.95,212.13 L510.68,211.99 L511.40,211.67 L512.10,211.73 L512.75,211.45 L513.35,211.32 L513.88,210.88 L514.34,210.65 L514.70,210.64" fill="none" stroke="#000" stroke-width="1.6" stroke-linejoin="round" stroke-linecap="round" />
<path d="M460.8,262.6 C461.77,262.60 465.08,261.73 466.6,262.6 C468.12,263.47 469.08,267.58 469.9,267.8 C470.72,268.02 470.98,266.15 471.5,263.9 C472.02,261.65 472.43,257.20 473.0,254.3 C473.57,251.40 474.13,248.60 474.9,246.5 C475.67,244.40 476.40,243.20 477.6,241.7 C478.80,240.20 480.38,238.62 482.1,237.5 C483.82,236.38 486.58,235.58 487.9,235.0 C489.22,234.42 488.77,234.55 490.0,234.0 C491.23,233.45 493.52,232.30 495.3,231.7 C497.08,231.10 498.92,230.75 500.7,230.4 C502.48,230.05 503.67,229.95 506.0,229.6 C508.33,229.25 513.25,228.52 514.7,228.3" fill="none" stroke="#000" stroke-width="1.1" stroke-linejoin="round" stroke-linecap="round" />
<path d="M478.36,240.70 L478.78,240.07 L479.21,240.13 L479.66,239.50 L480.12,239.12 L480.60,238.70 L481.09,238.35 L481.59,237.84 L482.10,237.15 L482.64,237.38 L483.24,237.04 L483.86,236.58 L484.50,236.33 L485.15,236.16 L485.78,235.51 L486.39,235.75 L486.96,235.20 L487.46,234.88 L487.90,234.84 L488.76,234.76 L489.20,234.17 L490.00,234.17 L490.45,234.13 L490.96,233.55 L491.53,233.21 L492.13,233.00 L492.76,232.85 L493.41,232.63 L494.05,232.25 L494.69,232.02 L495.30,231.40 L495.90,231.26 L496.50,231.16 L497.10,231.34 L497.70,230.89 L498.30,230.94 L498.90,230.42 L499.50,230.33 L500.10,230.36 L500.70,230.52 L501.34,230.41 L501.95,230.30 L502.55,229.94 L503.14,230.01 L503.77,229.89 L504.44,229.80 L505.18,229.45 L506.00,229.88 L506.54,229.31 L507.14,229.76 L507.80,229.64 L508.49,228.89 L509.21,229.09 L509.95,229.23 L510.68,229.23 L511.40,228.76 L512.10,228.53 L512.75,228.39 L513.35,228.81 L513.88,228.22 L514.34,228.41 L514.70,228.05" fill="none" stroke="#000" stroke-width="1.55" stroke-linejoin="round" stroke-linecap="round" />
<line x1="466.6" y1="249.1" x2="466.6" y2="256.2" stroke="#000" stroke-width="1" />
<line x1="466.2" y1="260.5" x2="466.2" y2="265" stroke="#000" stroke-width="0.9" />
<line x1="511.0" y1="234" x2="516.0" y2="234" stroke="#000" stroke-width="1.7" />
<line x1="513.5" y1="231.5" x2="513.5" y2="236.5" stroke="#000" stroke-width="1.7" />
<text x="376.7" y="286.8" font-size="8.8" font-weight="bold" text-anchor="middle" >0.5</text>
<line x1="377.8" y1="290" x2="377.8" y2="300.6" stroke="#555" stroke-width="1.2" />
<path d="M374.5,300.1 L381.1,300.1 L377.8,307.1 Z" fill="#000"/>
<path d="M372.6,313.7 C373.47,313.73 376.62,313.52 377.8,313.9 C378.98,314.28 378.98,314.82 379.7,316.0 C380.42,317.18 381.47,320.75 382.1,321.0 C382.73,321.25 383.08,319.33 383.5,317.5 C383.92,315.67 384.20,312.68 384.6,310.0 C385.00,307.32 385.37,304.10 385.9,301.4 C386.43,298.70 387.00,296.02 387.8,293.8 C388.60,291.58 389.58,289.68 390.7,288.1 C391.82,286.52 392.92,285.33 394.5,284.3 C396.08,283.27 398.02,282.65 400.2,281.9 C402.38,281.15 405.10,280.47 407.6,279.8 C410.10,279.13 412.67,278.53 415.2,277.9 C417.73,277.27 421.53,276.32 422.8,276.0" fill="none" stroke="#000" stroke-width="1.1" stroke-linejoin="round" stroke-linecap="round" />
<path d="M389.13,290.73 L389.43,290.47 L389.73,289.35 L390.05,289.31 L390.37,288.59 L390.70,288.37 L391.12,287.67 L391.54,286.80 L391.98,286.75 L392.43,285.98 L392.90,285.21 L393.40,284.76 L393.93,284.69 L394.50,284.27 L394.99,283.86 L395.49,283.47 L396.02,283.36 L396.56,283.10 L397.12,283.23 L397.71,282.42 L398.31,282.73 L398.92,282.58 L399.55,281.86 L400.20,282.20 L400.76,281.86 L401.33,281.81 L401.93,281.20 L402.53,281.08 L403.15,280.92 L403.78,281.17 L404.42,280.71 L405.06,280.38 L405.70,280.25 L406.34,279.98 L406.97,279.65 L407.60,279.52 L408.18,279.88 L408.76,279.35 L409.34,279.65 L409.92,279.03 L410.51,278.89 L411.09,278.92 L411.68,278.55 L412.27,278.53 L412.85,278.80 L413.44,278.60 L414.03,278.41 L414.61,278.14 L415.20,278.19 L415.81,278.06 L416.45,277.62 L417.11,277.58 L417.79,276.94 L418.47,277.25 L419.14,276.88 L419.80,276.93 L420.43,276.69 L421.02,276.29 L421.57,275.99 L422.05,276.49 L422.46,275.82 L422.80,275.98" fill="none" stroke="#000" stroke-width="1.55" stroke-linejoin="round" stroke-linecap="round" />
<line x1="372.1" y1="325.7" x2="423.7" y2="325.7" stroke="#000" stroke-width="1.3" />
<line x1="377.8" y1="325.5" x2="377.8" y2="331.8" stroke="#000" stroke-width="1" />
<line x1="420.1" y1="322" x2="425.1" y2="322" stroke="#000" stroke-width="1.7" />
<line x1="422.6" y1="319.5" x2="422.6" y2="324.5" stroke="#000" stroke-width="1.7" />
<text x="467.6" y="287.2" font-size="8.8" font-weight="bold" text-anchor="middle" >0.5</text>
<line x1="467.8" y1="290" x2="467.8" y2="300.6" stroke="#555" stroke-width="1.2" />
<path d="M464.5,300.1 L471.1,300.1 L467.8,307.1 Z" fill="#000"/>
<path d="M462.6,312.8 C463.23,312.80 465.53,312.70 466.4,312.8 C467.27,312.90 467.17,312.62 467.8,313.4 C468.43,314.18 469.57,316.55 470.2,317.5 C470.83,318.45 471.12,319.25 471.6,319.1 C472.08,318.95 472.60,318.12 473.1,316.6 C473.60,315.08 474.03,312.68 474.6,310.0 C475.17,307.32 475.87,303.35 476.5,300.5 C477.13,297.65 477.55,295.12 478.4,292.9 C479.25,290.68 480.27,288.78 481.6,287.2 C482.93,285.62 484.65,284.52 486.4,283.4 C488.15,282.28 490.50,281.45 492.1,280.5 C493.70,279.55 494.33,278.37 496.0,277.7 C497.67,277.03 500.08,276.93 502.1,276.5 C504.12,276.07 505.92,275.67 508.1,275.1 C510.28,274.53 514.02,273.43 515.2,273.1" fill="none" stroke="#000" stroke-width="1.1" stroke-linejoin="round" stroke-linecap="round" />
<path d="M480.14,289.14 L480.48,288.57 L480.84,288.36 L481.21,288.02 L481.60,287.03 L482.01,286.85 L482.44,286.16 L482.89,285.93 L483.36,285.43 L483.84,284.89 L484.34,284.53 L484.84,284.21 L485.36,284.36 L485.88,283.73 L486.40,283.20 L486.94,283.36 L487.51,283.11 L488.10,282.43 L488.70,281.92 L489.31,281.67 L489.91,281.32 L490.49,281.22 L491.06,280.77 L491.60,280.60 L492.10,280.33 L492.66,280.18 L493.15,280.03 L493.60,279.55 L494.03,278.93 L494.46,278.57 L494.91,278.30 L495.42,277.89 L496.00,277.59 L496.52,277.21 L497.08,277.21 L497.67,277.56 L498.29,276.85 L498.92,277.01 L499.56,277.01 L500.21,277.08 L500.85,276.53 L501.48,276.46 L502.10,276.32 L502.70,276.30 L503.29,276.20 L503.87,276.43 L504.45,276.23 L505.04,276.11 L505.63,275.38 L506.22,275.24 L506.83,275.57 L507.46,275.54 L508.10,275.08 L508.68,275.01 L509.30,274.43 L509.96,274.52 L510.65,274.70 L511.34,274.44 L512.02,274.26 L512.69,274.15 L513.32,273.46 L513.90,273.20 L514.41,273.08 L514.85,273.21 L515.20,273.23" fill="none" stroke="#000" stroke-width="1.6" stroke-linejoin="round" stroke-linecap="round" />
<line x1="467.8" y1="313.4" x2="467.8" y2="323.6" stroke="#000" stroke-width="1" />
<line x1="462.6" y1="327.3" x2="515.2" y2="327.3" stroke="#222" stroke-width="1.2" />
<line x1="467.8" y1="327" x2="467.8" y2="329.9" stroke="#000" stroke-width="1" />
<line x1="512.2" y1="322" x2="517.2" y2="322" stroke="#000" stroke-width="1.7" />
<line x1="514.7" y1="319.5" x2="514.7" y2="324.5" stroke="#000" stroke-width="1.7" />
</svg>
</body></html>
